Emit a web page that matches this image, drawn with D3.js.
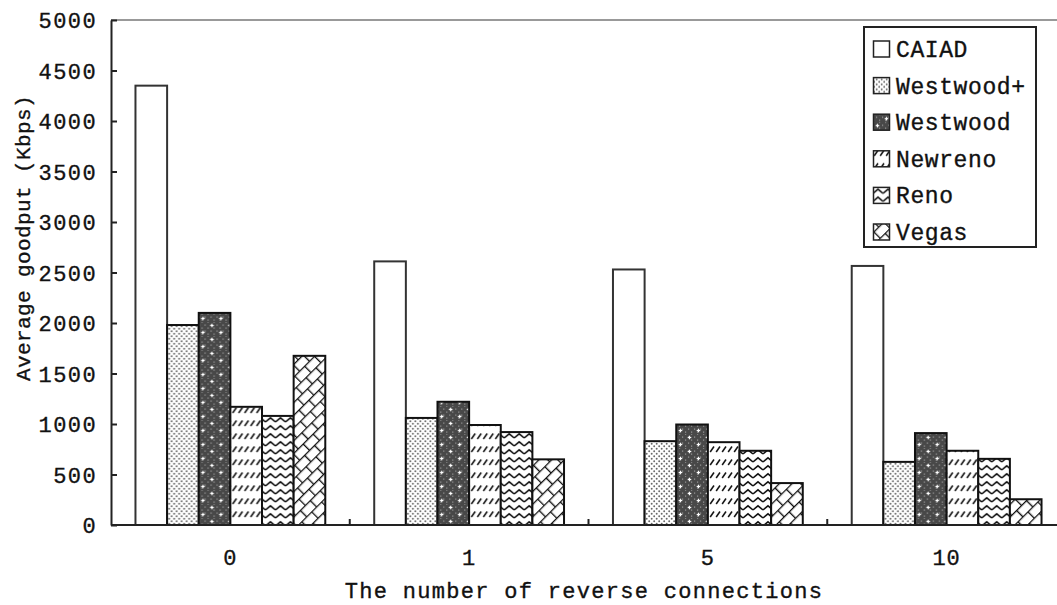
<!DOCTYPE html>
<html>
<head>
<meta charset="utf-8">
<script src="https://cdn.jsdelivr.net/npm/d3@7"></script>
<style>
  html, body { margin: 0; padding: 0; background: #fff; }
  svg { display: block; }
  text { font-family: "Liberation Mono", "DejaVu Sans Mono", monospace; fill: #111; stroke: #111; stroke-width: 0.35px; }
</style>
</head>
<body>
<svg id="chart" width="1057" height="605"></svg>
<script>
// Goodput per algorithm for each number of reverse connections
const categories = ["0", "1", "5", "10"];
const seriesNames = ["CAIAD", "Westwood+", "Westwood", "Newreno", "Reno", "Vegas"];
const caiad       = [4350, 2610, 2530, 2565];
const westwoodPlus = [1980, 1060, 830, 625];
const westwood    = [2100, 1220, 995, 910];
const newreno     = [1170, 990, 820, 735];
const reno        = [1080, 920, 735, 655];
const vegas       = [1675, 650, 415, 255];
const yTicks = [0, 500, 1000, 1500, 2000, 2500, 3000, 3500, 4000, 4500, 5000];

const seriesValues = [caiad, westwoodPlus, westwood, newreno, reno, vegas];
const patternIds = ["p-caiad", "p-wwplus", "p-ww", "p-newreno", "p-reno", "p-vegas"];

const svg = d3.select("#chart");
const plotLeft = 111, plotRight = 1066, plotTop = 20, plotBottom = 525;

const x = d3.scaleBand().domain(categories).range([plotLeft, plotRight])
  .paddingInner(0.205).paddingOuter(0.1025);
const x1 = d3.scaleBand().domain(seriesNames).range([0, x.bandwidth()]);
const y = d3.scaleLinear().domain([0, 5000]).range([plotBottom, plotTop]);

// ---- fill patterns ----
const defs = svg.append("defs");

// CAIAD: plain white
defs.append("pattern").attr("id", "p-caiad").attr("patternUnits", "userSpaceOnUse")
  .attr("width", 4).attr("height", 4)
  .append("rect").attr("width", 4).attr("height", 4).attr("fill", "#fff");

// Westwood+: light stipple
{
  const p = defs.append("pattern").attr("id", "p-wwplus").attr("patternUnits", "userSpaceOnUse")
    .attr("width", 5).attr("height", 5);
  p.append("rect").attr("width", 5).attr("height", 5).attr("fill", "#fff");
  p.append("circle").attr("cx", 1.2).attr("cy", 1.2).attr("r", 0.95).attr("fill", "#666");
  p.append("circle").attr("cx", 3.7).attr("cy", 3.7).attr("r", 0.95).attr("fill", "#666");
}

// Westwood: dark stipple with small light crosses
{
  const p = defs.append("pattern").attr("id", "p-ww").attr("patternUnits", "userSpaceOnUse")
    .attr("width", 18).attr("height", 14);
  p.append("rect").attr("width", 18).attr("height", 14).attr("fill", "#484848");
  for (let i = 0; i < 6; i++) for (let j = 0; j < 5; j++) {
    if ((i + j) % 2 === 0) p.append("rect").attr("x", i * 3).attr("y", j * 3 - 0.5)
      .attr("width", 1.2).attr("height", 1.2).attr("fill", "#9a9a9a");
  }
  [[4.5, 3.5], [13.5, 10.5]].forEach(([cx, cy]) => {
    p.append("rect").attr("x", cx - 1.8).attr("y", cy - 0.6).attr("width", 3.6).attr("height", 1.2).attr("fill", "#fff");
    p.append("rect").attr("x", cx - 0.6).attr("y", cy - 1.8).attr("width", 1.2).attr("height", 3.6).attr("fill", "#fff");
  });
}

// Newreno: rows of short forward-slash dashes
{
  const p = defs.append("pattern").attr("id", "p-newreno").attr("patternUnits", "userSpaceOnUse")
    .attr("width", 6).attr("height", 13);
  p.append("rect").attr("width", 6).attr("height", 13).attr("fill", "#fff");
  p.append("line").attr("x1", 1.2).attr("y1", 10).attr("x2", 5).attr("y2", 4.5)
    .attr("stroke", "#111").attr("stroke-width", 1.5);
}

// Reno: stacked zigzag lines
{
  const p = defs.append("pattern").attr("id", "p-reno").attr("patternUnits", "userSpaceOnUse")
    .attr("width", 10).attr("height", 8);
  p.append("rect").attr("width", 10).attr("height", 8).attr("fill", "#fff");
  p.append("path").attr("d", "M0,6 L5,1.8 L10,6").attr("fill", "none")
    .attr("stroke", "#111").attr("stroke-width", 1.6);
}

// Vegas: diagonal brick
{
  const w = 14, h = 9;
  const p = defs.append("pattern").attr("id", "p-vegas").attr("patternUnits", "userSpaceOnUse")
    .attr("width", w).attr("height", h * 2).attr("patternTransform", "rotate(-45)");
  p.append("rect").attr("width", w).attr("height", h * 2).attr("fill", "#fff");
  p.append("path")
    .attr("d", `M0,0.6 H${w} M0,${h + 0.6} H${w} M0.6,0 V${h} M${w / 2 + 0.6},${h} V${2 * h}`)
    .attr("stroke", "#111").attr("stroke-width", 1.4).attr("fill", "none");
}

// ---- plot frame (top edge) ----
svg.append("line").attr("x1", plotLeft).attr("x2", 1057).attr("y1", plotTop).attr("y2", plotTop)
  .attr("stroke", "#777").attr("stroke-width", 1.6);

// ---- bars ----
const groups = svg.append("g").selectAll("g").data(categories).join("g")
  .attr("transform", c => `translate(${x(c)},0)`);

groups.selectAll("rect").data((c, ci) => seriesNames.map((s, si) => ({ s, si, v: seriesValues[si][ci] })))
  .join("rect")
  .attr("x", d => x1(d.s))
  .attr("y", d => y(d.v))
  .attr("width", x1.bandwidth())
  .attr("height", d => y(0) - y(d.v))
  .attr("fill", d => `url(#${patternIds[d.si]})`)
  .attr("stroke", d => d.si === 0 ? "#333" : "#111")
  .attr("stroke-width", 2);

// ---- axes ----
const yAxis = svg.append("g").attr("transform", `translate(${plotLeft},0)`)
  .call(d3.axisLeft(y).tickValues(yTicks).tickFormat(d3.format("d"))
    .tickSizeInner(-6).tickSizeOuter(0).tickPadding(14));
yAxis.select(".domain").attr("stroke", "#222").attr("stroke-width", 2);
yAxis.selectAll(".tick line").attr("stroke", "#222").attr("stroke-width", 2);
yAxis.selectAll(".tick text").style("font-size", "22px").attr("dy", "0.36em")
  .style("letter-spacing", "1.4px");

const xAxis = svg.append("g").attr("transform", `translate(0,${plotBottom})`)
  .call(d3.axisBottom(x).tickSize(0).tickPadding(27));
xAxis.select(".domain").attr("d", `M${plotLeft},0H1057`).attr("stroke", "#222").attr("stroke-width", 2);
xAxis.selectAll(".tick text").style("font-size", "22px").attr("dy", "0.6em")
  .style("letter-spacing", "1px");

// separators between category groups
const seps = categories.slice(1).map(c => x(c) - x.step() * x.paddingInner() / 2);
svg.append("g").selectAll("line").data(seps).join("line")
  .attr("x1", d => d).attr("x2", d => d).attr("y1", plotBottom).attr("y2", plotBottom - 6)
  .attr("stroke", "#222").attr("stroke-width", 2);

// ---- axis titles ----
svg.append("text").attr("x", 584).attr("y", 598)
  .attr("text-anchor", "middle").style("font-size", "22px").style("letter-spacing", "1.3px")
  .text("The number of reverse connections");

svg.append("text").attr("transform", "translate(30,238) rotate(-90)")
  .attr("text-anchor", "middle").style("font-size", "21px").style("letter-spacing", "0.4px")
  .text("Average goodput (Kbps)");

// ---- legend ----
const legend = svg.append("g");
legend.append("rect").attr("x", 864).attr("y", 27).attr("width", 172).attr("height", 220)
  .attr("fill", "#fff").attr("stroke", "#222").attr("stroke-width", 2);
const items = legend.selectAll("g.item").data(seriesNames).join("g").attr("class", "item")
  .attr("transform", (d, i) => `translate(873,${49 + i * 36.6})`);
items.append("rect").attr("x", 0.5).attr("y", -8).attr("width", 16).attr("height", 16)
  .attr("fill", (d, i) => `url(#${patternIds[i]})`).attr("stroke", "#222").attr("stroke-width", 1.5);
items.append("text").attr("x", 23).attr("y", 8)
  .style("font-size", "23px").style("letter-spacing", "0.6px")
  .text(d => d);
</script>
</body>
</html>
